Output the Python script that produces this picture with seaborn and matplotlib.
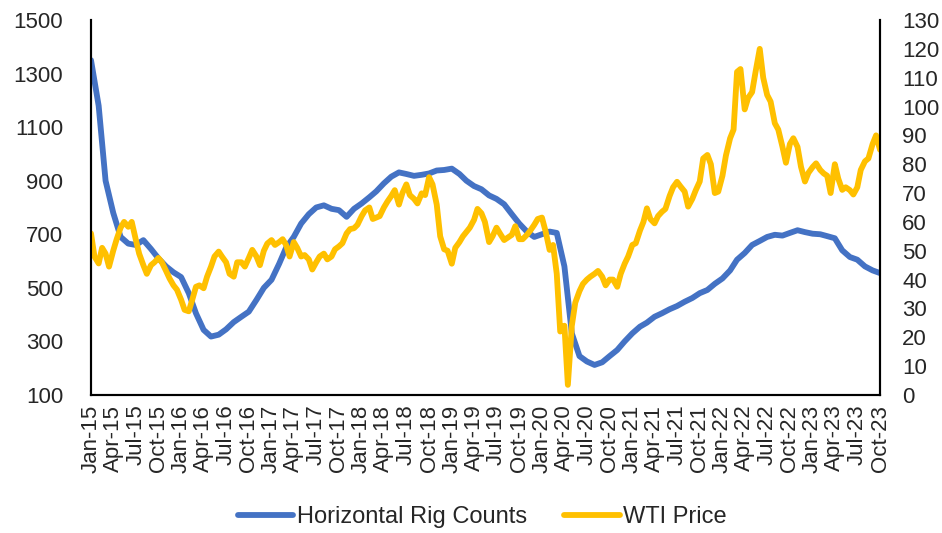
import matplotlib
matplotlib.use("Agg")
import matplotlib.pyplot as plt
import matplotlib.dates as mdates
import seaborn as sns
import pandas as pd

# Monthly horizontal rig counts, Jan-2015 .. Oct-2023
rig_counts = [
    1350, 1180, 900, 780, 690, 665, 660, 678, 645, 610, 580, 558,
    540, 480, 405, 343, 318, 325, 345, 372, 392, 411, 455, 500,
    530, 590, 650, 690, 740, 775, 800, 808, 795, 790, 765, 795,
    815, 838, 860, 890, 915, 931, 925, 918, 922, 927, 938, 940,
    945, 925, 900, 880, 868, 845, 832, 812, 775, 740, 710, 690,
    700, 710, 705, 580, 330, 245, 225, 212, 222, 245, 268, 300,
    330, 355, 370, 392, 405, 420, 432, 448, 462, 480, 492, 515,
    535, 565, 605, 630, 660, 675, 690, 698, 695, 705, 715, 708,
    702, 700, 693, 685, 640, 615, 605, 580, 565, 555,
]

# Semi-monthly WTI price (USD/bbl), 1st and 15th of each month
wti_price = [
    56, 48, 45.6, 51, 49, 44.5, 50, 54, 58, 60, 58.3, 60,
    54, 49, 45, 42, 45, 46, 47.5, 46, 43, 40.4, 38, 36.5,
    33, 29.5, 29, 33, 37.5, 38, 37, 41, 44.5, 48, 49.7, 47.9,
    46, 42, 41, 46, 46, 44.5, 47.5, 50.3, 48, 45, 50, 52.5,
    53.7, 52, 53, 54, 52, 48, 53, 51, 48, 48.5, 47, 43.5,
    46, 48, 49, 47, 48, 50.5, 51.5, 52.6, 56, 57.5, 57.8, 59,
    62, 64, 65, 61, 61.5, 62, 65, 67, 69, 71, 66, 70,
    73, 69.3, 68, 66.4, 69.9, 69.3, 75.5, 73, 66, 55, 50.5, 50,
    45.5, 51, 53, 55, 56.5, 58, 60.7, 64.5, 63, 60, 53, 55,
    58, 56, 53.7, 54.5, 55.5, 58.5, 54, 54, 55.5, 57, 59, 61,
    61.5, 57, 50.3, 52, 42, 22, 24, 3.5, 24, 32, 36, 38.5,
    40, 41, 42, 43, 41, 38, 40, 40, 37.5, 42, 45.5, 48,
    52, 52.6, 57, 60, 64.7, 61, 59.5, 62, 63.5, 64.5, 69, 72,
    73.9, 72.3, 70.5, 65.3, 68, 71, 74, 82, 83.2, 80, 70, 70.5,
    76, 83, 89, 92, 112, 113, 99, 103, 105, 112, 120, 110,
    104, 101.7, 94.2, 92, 86, 80.5, 87, 89, 86, 79.1, 74, 77,
    79, 80.3, 78, 76.8, 76, 70, 80, 75, 71.1, 72, 71, 69.5,
    72, 78, 81, 82, 87, 90, 85,
]

rig_dates = pd.date_range("2015-01-01", "2023-10-01", freq="MS")
wti_dates = pd.date_range("2015-01-01", "2023-10-01", freq="SMS")
tick_dates = pd.date_range("2015-01-01", "2023-10-01", freq="QS")

left_ticks = list(range(100, 1501, 200))
right_ticks = list(range(0, 131, 10))

rig_df = pd.DataFrame({"date": rig_dates, "rigs": rig_counts})
wti_df = pd.DataFrame({"date": wti_dates, "wti": wti_price})

sns.set_style("white")
plt.rcParams["font.family"] = ["Liberation Sans", "DejaVu Sans"]

BLUE = "#4472C4"
GOLD = "#FFC000"
FS = 16
LW = 4.2

fig = plt.figure(figsize=(9.42, 5.33), dpi=100)
ax = fig.add_axes([0.0966, 0.259, 0.8376, 0.7035])
ax2 = ax.twinx()

sns.lineplot(data=rig_df, x="date", y="rigs", ax=ax, color=BLUE,
             linewidth=LW, label="Horizontal Rig Counts", legend=False)
sns.lineplot(data=wti_df, x="date", y="wti", ax=ax2, color=GOLD,
             linewidth=LW, label="WTI Price", legend=False)
ax2.set_zorder(ax.get_zorder() + 1)
ax2.patch.set_visible(False)

ax.set_xlim(rig_dates[0], rig_dates[-1])
ax.set_ylim(100, 1500)
ax2.set_ylim(0, 130)
ax.set_yticks(left_ticks)
ax2.set_yticks(right_ticks)

ax.set_xticks(tick_dates)
ax.xaxis.set_major_formatter(mdates.DateFormatter("%b-%y"))
ax.tick_params(axis="x", rotation=90, labelsize=FS, length=6, width=1.3,
               direction="out", pad=1, color="black")
ax.tick_params(axis="y", labelsize=FS, length=0, pad=20)
ax2.tick_params(axis="y", labelsize=FS, length=0, pad=16)

for a in (ax, ax2):
    a.set_xlabel("")
    a.set_ylabel("")
    a.grid(False)
    a.spines["top"].set_visible(False)
    for s in ("left", "right", "bottom"):
        a.spines[s].set_color("black")
        a.spines[s].set_linewidth(1.5)

handles = ax.get_lines()[:1] + ax2.get_lines()[:1]
labels = ["Horizontal Rig Counts", "WTI Price"]
fig.legend(handles, labels, loc="center", bbox_to_anchor=(0.512, 0.03),
           ncol=2, frameon=False, fontsize=17, handlelength=2.35,
           handletextpad=0.15, columnspacing=1.6)

fig.savefig("out.png", dpi=100)
